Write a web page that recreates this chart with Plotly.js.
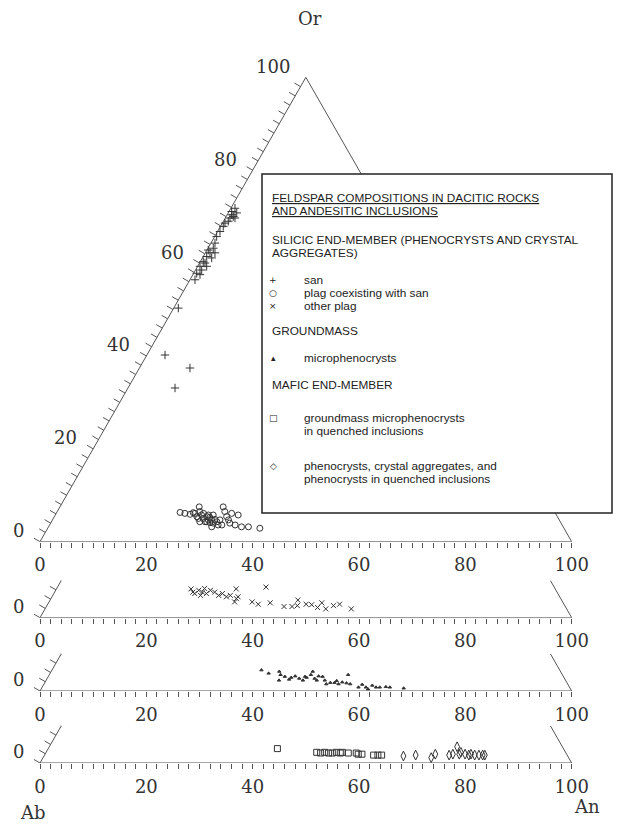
<!DOCTYPE html>
<html><head><meta charset="utf-8">
<script src="https://cdn.plot.ly/plotly-3.0.1.min.js"></script>
<style>html,body{margin:0;padding:0;background:#fff}#chart{width:619px;height:826px}</style>
</head><body><div id="chart"></div>
<script>
// ---------- DATA (An %, Or %) ----------
const sanAn = [0.77,0.5,1.6,1.35,0.88,0.91,0.49,0.38,0.76,0.99,0.87,1.81,0.65,1.74,0.56,0.44,1.7,0.57,1.34,0.95,0.86,3.41,9.51,8.84,0.85,1.82,0.52,0.45,1.03,1.16,0.25];
const sanOr = [71.8,71.1,70.8,70.0,69.7,69.0,68.6,65.7,64.3,63.2,62.2,62.2,61.4,61.1,60.3,59.3,59.3,57.8,57.5,56.4,50.3,40.2,37.4,33.1,70.4,69.7,67.9,66.8,60.0,58.5,62.8];

const plagSanAn = [23.2,24.2,25.3,25.7,26.2,26.8,26.8,27.5,28.2,28.9,28.7,29.3,29.9,30.7,30.6,30.5,31.1,31.5,32.4,30.7,31.5,32.4,33.1,33.7,34.9,34.4,36.3,37.6,39.9,26.1,27.3,27.9,27.7,29.2,28.8,29.9,29.7,29.3,31.7,33.0];
const plagSanOr = [6.3,6.1,5.9,6.25,7.5,6.5,5.4,5.75,5.0,4.3,5.4,4.7,4.1,3.2,4.0,4.8,4.3,4.7,3.6,7.5,6.5,5.4,4.7,4.0,3.6,5.75,3.2,3.2,2.9,6.1,5.0,4.3,6.1,4.3,5.75,4.7,5.75,5.25,3.6,6.1];

const otherPlagAn = [25.3,26.5,26.9,27.8,27.8,28.7,29.1,30.1,31.2,31.7,32.8,33.4,34.9,34.9,35.0,33.8,27.8,26.0,39.2,38.2,39.6,41.7,44.7,46.2,47.1,46.6,48.6,49.7,51.1,51.4,52.8,53.9,54.9,57.6];
const otherPlagOr = [6.2,5.2,5.9,5.5,6.3,5.2,5.9,5.5,4.8,5.2,4.5,4.8,3.4,4.1,4.5,6.2,4.8,5.5,6.6,3.4,2.9,3.2,2.4,2.4,2.6,3.8,2.9,2.8,2.2,3.2,1.9,2.6,2.9,1.9];

const gmAn = [39.4,41.1,42.9,43.5,43.8,44.5,45.8,46.4,47.4,48.3,48.7,49.2,49.2,50.3,50.9,50.8,51.6,52.4,53.1,53.7,54.5,54.7,55.4,55.9,56.8,56.2,57.6,59.5,59.9,60.9,61.5,61.9,62.8,63.5,64.6,65.4,68.1,45.6,48.3];
const gmOr = [4.5,3.8,4.2,3.5,2.3,3.1,2.9,3.2,2.7,2.3,2.9,3.5,4.2,2.7,2.3,3.2,3.1,2.3,1.5,1.8,1.8,2.2,1.5,1.9,1.7,3.5,1.5,0.8,1.4,0.8,0.4,1.2,0.8,0.8,0.9,0.8,0.6,2.5,3.1];

const mafSqAn = [43.1,50.9,51.7,52.4,53.2,53.9,54.6,55.4,55.7,56.9,58.4,58.9,59.6,61.9,62.7,63.4];
const mafSqOr = [3.1,2.3,2.15,2.3,2.15,2.15,2.3,2.15,2.3,2.15,2.15,1.9,1.9,1.7,1.7,1.7];

const mafDiAn = [67.6,69.8,73.0,73.4,76.1,76.7,76.7,77.9,78.0,79.0,79.8,80.1,80.9,81.7,82.4,82.8];
const mafDiOr = [1.5,1.7,1.15,1.9,1.7,1.9,3.5,1.9,2.3,1.9,1.7,1.9,1.7,1.7,1.7,1.7];

const baseTickLabels = ['0','20','40','60','80','100'];
const orTickLabels = ['0','20','40','60','80','100'];

// ---------- GEOMETRY ----------
const W = 619, H = 826;
const X0PX = 40, PXU = 5.317, PXOR = 4.644;
const panels = [
  {base: 541.7, top: 100, traces: [
    {an: sanAn, or: sanOr, sym: 'cross-thin', size: 6},
    {an: plagSanAn, or: plagSanOr, sym: 'circle-open', size: 6}
  ]},
  {base: 617.7, top: 8, traces: [{an: otherPlagAn, or: otherPlagOr, sym: 'x-thin', size: 5}]},
  {base: 691, top: 8, traces: [{an: gmAn, or: gmOr, sym: 'triangle-up', size: 3}]},
  {base: 763, top: 8, traces: [
    {an: mafSqAn, or: mafSqOr, sym: 'square-open', size: 6},
    {an: mafDiAn, or: mafDiOr, sym: 'diamond-tall-open', size: 7}
  ]}
];
const INK = '#333', AX = '#555';
const serif = 'DejaVu Serif, serif';

const tickVals = [], tickText = [];
for (let v = 0; v <= 100; v += 2) { tickVals.push(v); tickText.push(v % 20 === 0 ? baseTickLabels[v/20] : ''); }

const data = [], layout = {
  width: W, height: H, margin: {l:0, r:0, t:0, b:0},
  paper_bgcolor: '#fff', plot_bgcolor: 'rgba(0,0,0,0)', showlegend: false,
  shapes: [], annotations: []
};

// tick direction (perpendicular to left edge, outward)
const TL = 7;
const tdx = -TL*Math.cos(Math.PI/6)/PXU;
const tdyPx = TL*Math.sin(Math.PI/6);

panels.forEach((p, i) => {
  const n = i === 0 ? '' : String(i+1);
  const xa = 'xaxis' + n, ya = 'yaxis' + n;
  const xr = 'x' + n, yr = 'y' + n;
  layout[xa] = {
    anchor: yr, range: [-X0PX/PXU, (W-X0PX)/PXU], domain: [0,1],
    showgrid: false, zeroline: false, showline: false,
    tickmode: 'array', tickvals: tickVals, ticktext: tickText,
    ticks: 'outside', ticklen: 5, tickwidth: 1, tickcolor: AX,
    tickfont: {family: serif, size: 18, color: INK}, ticklabelstandoff: 2, fixedrange: true
  };
  layout[ya] = {
    anchor: xr, range: [0, p.top],
    domain: [(H-p.base)/H, (H-p.base+p.top*PXOR)/H],
    visible: false, fixedrange: true
  };
  // triangle outline
  data.push({type:'scatter', mode:'lines', xaxis: xr, yaxis: yr, hoverinfo:'skip',
    x: [p.top/2, 0, 100, 100-p.top/2], y: [p.top, 0, 0, p.top],
    line: {color: AX, width: 1}, cliponaxis: false});
  // left edge ticks
  const tx = [], ty = [];
  const tdy = tdyPx / PXOR;
  for (let o = 0; o <= p.top + 1e-9; o += 2) {
    tx.push(o/2, o/2 + tdx, null); ty.push(o, o + tdy, null);
  }
  data.push({type:'scatter', mode:'lines', xaxis: xr, yaxis: yr, hoverinfo:'skip',
    x: tx, y: ty, line: {color: AX, width: 1}, cliponaxis: false});
  // left edge labels
  for (let k = 0; k*20 <= p.top; k++) {
    const o = k*20;
    layout.annotations.push({xref: xr, yref: yr, x: o/2, y: o, text: orTickLabels[k],
      showarrow: false, xanchor: 'right', yanchor: 'middle', xshift: -14, yshift: 11,
      font: {family: serif, size: 18, color: INK}});
  }
  // data
  p.traces.forEach(t => {
    const mk = {symbol: t.sym, size: t.size, color: INK, line: {color: INK, width: 1}};
    data.push({type:'scatter', mode:'markers', xaxis: xr, yaxis: yr, cliponaxis: false,
      x: t.an.map((a, j) => a + t.or[j]/2), y: t.or, marker: mk});
  });
});

// legend box
layout.shapes.push({type:'rect', xref:'paper', yref:'paper',
  x0: 262/W, x1: 612/W, y0: 1-513/H, y1: 1-174/H,
  fillcolor:'#fff', line:{color:'#222', width:1.5}, layer:'above'});

const legendLines = [
  {y:198, sym:'', text:'<u>FELDSPAR COMPOSITIONS IN DACITIC ROCKS</u>'},
  {y:211, sym:'', text:'<u>AND ANDESITIC INCLUSIONS</u>'},
  {y:240, sym:'', text:'SILICIC END-MEMBER (PHENOCRYSTS AND CRYSTAL'},
  {y:253, sym:'', text:'AGGREGATES)'},
  {y:280, sym:'+', text:'san'},
  {y:293, sym:'○', text:'plag coexisting with san'},
  {y:306, sym:'×', text:'other plag'},
  {y:331, sym:'', text:'GROUNDMASS'},
  {y:358, sym:'▴', text:'microphenocrysts'},
  {y:385, sym:'', text:'MAFIC END-MEMBER'},
  {y:418, sym:'□', text:'groundmass microphenocrysts'},
  {y:431, sym:'', text:'in quenched inclusions', indent:true},
  {y:466, sym:'◇', text:'phenocrysts, crystal aggregates, and'},
  {y:479, sym:'', text:'phenocrysts in quenched inclusions', indent:true}
];
const lf = {family:'Liberation Sans, Arial, sans-serif', size:11.8, color:'#222'};
const sf = {family:'DejaVu Sans, sans-serif', size:9, color:'#222'};
legendLines.forEach(l => {
  const hasSym = l.sym !== '' || l.indent;
  layout.annotations.push({xref:'paper', yref:'paper', x: (hasSym ? 302 : 270)/W, y: 1-l.y/H,
    text: l.text, showarrow:false, xanchor:'left', yanchor:'middle', font: lf});
  if (l.sym) layout.annotations.push({xref:'paper', yref:'paper', x: 273/W, y: 1-l.y/H,
    text: l.sym, showarrow:false, xanchor:'center', yanchor:'middle', font: sf});
});

// corner labels
const cf = {family: serif, size: 18, color: INK};
layout.annotations.push({xref:'paper', yref:'paper', x:310/W, y:1-18/H, text:'Or', showarrow:false, font:cf, xanchor:'center', yanchor:'middle'});
layout.annotations.push({xref:'paper', yref:'paper', x:33/W, y:1-812/H, text:'Ab', showarrow:false, font:cf, xanchor:'center', yanchor:'middle'});
layout.annotations.push({xref:'paper', yref:'paper', x:587/W, y:1-806/H, text:'An', showarrow:false, font:cf, xanchor:'center', yanchor:'middle'});

Plotly.newPlot('chart', data, layout, {staticPlot:true, displayModeBar:false});
</script>
</body></html>
